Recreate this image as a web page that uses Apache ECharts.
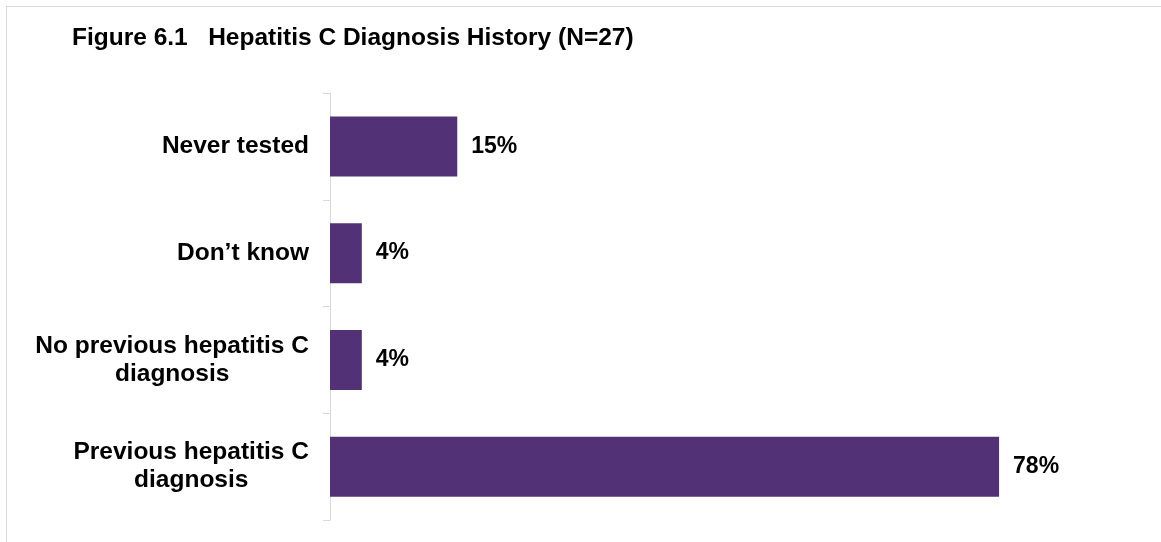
<!DOCTYPE html>
<html>
<head>
<meta charset="utf-8">
<script src="https://cdn.jsdelivr.net/npm/echarts@6/dist/echarts.min.js"></script>
<style>
  html, body { margin: 0; padding: 0; background: #fff; }
  #main { width: 1161px; height: 542px; }
</style>
</head>
<body>
<div id="main"></div>
<script>
var categories = ['Never tested', 'Don\u2019t know', 'No previous hepatitis C\ndiagnosis', 'Previous hepatitis C\ndiagnosis'];
var values = [14.8, 3.7, 3.7, 77.8];

var font = '"Liberation Sans", Arial, sans-serif';

echarts.init(document.getElementById('main')).setOption({
    animation: false,
    title: {
        text: 'Figure 6.1   Hepatitis C Diagnosis History (N=27)',
        left: 67,
        top: 21,
        textStyle: { fontFamily: font, fontSize: 24.5, fontWeight: 'bold', color: '#000' }
    },
    graphic: [
        { type: 'line', shape: { x1: 6, y1: 6.5, x2: 1161, y2: 6.5 }, style: { stroke: '#d9d9d9', lineWidth: 1 } },
        { type: 'line', shape: { x1: 6.5, y1: 6, x2: 6.5, y2: 542 }, style: { stroke: '#d9d9d9', lineWidth: 1 } }
    ],
    grid: { left: 330, top: 93, bottom: 22, right: 57 },
    xAxis: {
        type: 'value',
        min: 0,
        max: 90,
        show: false
    },
    yAxis: {
        type: 'category',
        inverse: true,
        data: categories,
        axisLine: { show: true, lineStyle: { color: '#d9d9d9' } },
        axisTick: { show: true, length: 7, lineStyle: { color: '#d9d9d9' } },
        axisLabel: {
            margin: 21,
            color: '#000',
            formatter: function (v) {
                return v.split('\n').map(function (s) { return '{a|' + s + '}'; }).join('\n');
            },
            rich: {
                a: { align: 'center', fontFamily: font, fontSize: 24.5, fontWeight: 'bold', lineHeight: 28, color: '#000' }
            }
        }
    },
    series: [{
        type: 'bar',
        data: values,
        barWidth: 60,
        itemStyle: { color: '#533176' },
        label: {
            show: true,
            position: 'right',
            distance: 14,
            formatter: function (p) { return Math.round(p.value) + '%'; },
            fontFamily: font,
            fontSize: 23,
            fontWeight: 'bold',
            color: '#000'
        }
    }]
});
</script>
</body>
</html>
